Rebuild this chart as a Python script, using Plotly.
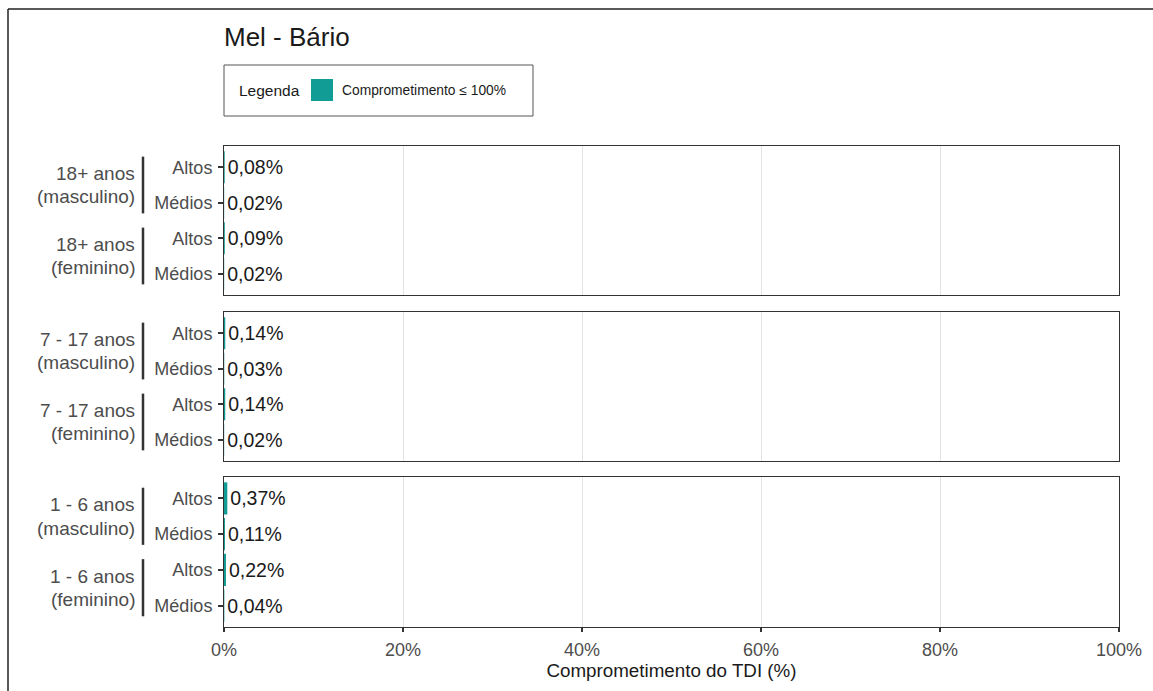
import plotly.graph_objects as go

# Data: percentage of the TDI reached, by age group, sex and consumption level
panels = ["18+ anos", "7 - 17 anos", "1 - 6 anos"]
groups = ["masculino", "feminino"]
levels = ["Altos", "Médios"]
values_18 = [0.08, 0.02, 0.09, 0.02]
values_7_17 = [0.14, 0.03, 0.14, 0.02]
values_1_6 = [0.37, 0.11, 0.22, 0.04]
panel_values = [values_18, values_7_17, values_1_6]
x_ticks = [0, 20, 40, 60, 80, 100]
x_tick_text = [f"{v}%" for v in x_ticks]

TEAL = "#119C95"
# alpha just under 1 keeps sub-pixel bars at their true (rounded) width
TEAL_BAR = "rgba(17,156,149,0.995)"
DARK = "#333333"
GREY_TXT = "#4D4D4D"
BLACK_TXT = "#1A1A1A"
FONT = "Liberation Sans, Arial, sans-serif"

W, H = 1153, 691
L, R, T, B = 224, 34, 146, 64
PW, PH = W - L - R, H - T - B


def px_x(px):
    return (px - L) / PW


def px_y(py):
    return (H - B - py) / PH


# panel pixel extents (top, bottom)
panel_px = [(146, 295), (312, 461), (477, 627)]

fig = go.Figure()
layout_axes = {}
shapes = []
annotations = []

for i, (name, vals) in enumerate(zip(panels, panel_values)):
    idx = "" if i == 0 else str(i + 1)
    xa, ya = "x" + idx, "y" + idx
    positions = [1, 2, 3, 4]
    fig.add_trace(go.Bar(
        x=vals, y=positions, orientation="h",
        xaxis=xa, yaxis=ya,
        marker=dict(color=TEAL_BAR, line=dict(width=0)),
        width=0.9,
        text=[f"{v:.2f}%".replace(".", ",") for v in vals],
        textposition="outside",
        textfont=dict(family=FONT, size=19.5, color=BLACK_TXT),
        cliponaxis=False,
        showlegend=False,
        hoverinfo="skip",
    ))
    top, bot = panel_px[i]
    dom_y = [px_y(bot), px_y(top)]
    last = i == len(panels) - 1
    xaxis = dict(
        domain=[0, 1], anchor=ya, range=[0, 100],
        tickmode="array", tickvals=x_ticks, ticktext=x_tick_text,
        showticklabels=last,
        ticks="outside" if last else "", ticklen=4, tickwidth=1.5, tickcolor=DARK,
        ticklabelstandoff=2,
        tickfont=dict(family=FONT, size=18, color=GREY_TXT),
        showgrid=True, gridcolor="#E3E3E3", gridwidth=1,
        showline=True, linecolor=DARK, linewidth=1, mirror=True,
        zeroline=False, fixedrange=True,
    )
    if last:
        xaxis["title"] = dict(text="Comprometimento do TDI (%)",
                              font=dict(family=FONT, size=18.8, color=BLACK_TXT),
                              standoff=4)
    layout_axes["xaxis" + idx] = xaxis
    layout_axes["yaxis" + idx] = dict(
        domain=dom_y, anchor=xa, range=[4.6, 0.4],
        tickmode="array", tickvals=positions, ticktext=levels * 2,
        ticks="outside", ticklen=5, tickwidth=1.5, tickcolor=DARK,
        ticklabelstandoff=2,
        tickfont=dict(family=FONT, size=18, color=GREY_TXT),
        showgrid=False, zeroline=False,
        showline=True, linecolor=DARK, linewidth=1, mirror=True,
        fixedrange=True,
    )
    # group brackets and two-line labels (masculino: rows 1-2, feminino: rows 3-4)
    for g, grp in enumerate(groups):
        r0 = 1 + 2 * g
        shapes.append(dict(
            type="line", xref="paper", yref=ya,
            x0=px_x(143), x1=px_x(143), y0=r0 - 0.3, y1=r0 + 1.3,
            line=dict(color=DARK, width=2.5),
        ))
        for line_text, dy in ((name, -0.32), (f"({grp})", 0.33)):
            annotations.append(dict(
                text=line_text, xref="paper", yref=ya,
                x=px_x(137), y=r0 + 0.5 + dy, xanchor="right", yanchor="middle",
                align="right", showarrow=False,
                font=dict(family=FONT, size=19, color=GREY_TXT),
            ))

# Title
annotations.append(dict(
    text="Mel - Bário", xref="paper", yref="paper",
    x=px_x(222), y=px_y(37), xanchor="left", yanchor="middle",
    showarrow=False, font=dict(family=FONT, size=26, color=BLACK_TXT),
))

# Legend box drawn by hand
shapes.append(dict(type="rect", xref="paper", yref="paper",
                   x0=px_x(224), x1=px_x(533), y0=px_y(116), y1=px_y(65),
                   line=dict(color="#555555", width=1), fillcolor="white"))
shapes.append(dict(type="rect", xref="paper", yref="paper",
                   x0=px_x(311), x1=px_x(333), y0=px_y(101), y1=px_y(79),
                   line=dict(width=0), fillcolor=TEAL))
annotations.append(dict(
    text="Legenda", xref="paper", yref="paper",
    x=px_x(237), y=px_y(90), xanchor="left", yanchor="middle",
    showarrow=False, font=dict(family=FONT, size=15.5, color=BLACK_TXT),
))
annotations.append(dict(
    text="Comprometimento ≤ 100%", xref="paper", yref="paper",
    x=px_x(340), y=px_y(90), xanchor="left", yanchor="middle",
    showarrow=False, font=dict(family=FONT, size=13.8, color=BLACK_TXT),
))

# Outer frame (top and left edges)
shapes.append(dict(type="line", xref="paper", yref="paper",
                   x0=px_x(8), x1=px_x(1160), y0=px_y(9), y1=px_y(9),
                   line=dict(color="#222222", width=1.5)))
shapes.append(dict(type="line", xref="paper", yref="paper",
                   x0=px_x(8), x1=px_x(8), y0=px_y(9), y1=px_y(700),
                   line=dict(color="#222222", width=1.5)))

fig.update_layout(
    width=W, height=H,
    margin=dict(l=L, r=R, t=T, b=B),
    paper_bgcolor="white", plot_bgcolor="white",
    showlegend=False,
    shapes=shapes, annotations=annotations,
    font=dict(family=FONT),
    **layout_axes,
)

fig.write_html("out.html", config={"displayModeBar": False})
